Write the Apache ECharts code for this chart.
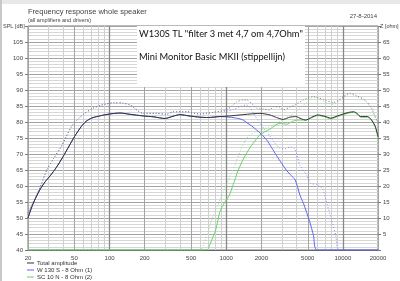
<!DOCTYPE html>
<html><head><meta charset="utf-8">
<script src="https://cdn.jsdelivr.net/npm/echarts@6/dist/echarts.min.js"></script>
<style>html,body{margin:0;padding:0;background:#fff}#c{width:400px;height:281px}</style>
</head><body><div id="c"></div>
<script>
// ---- tick labels / grid values ----
const majorFreqTicks = [20, 50, 100, 200, 500, 1000, 2000, 5000, 10000, 20000];
const minorFreqTicks = [30, 40, 60, 70, 80, 90, 300, 400, 600, 700, 800, 900, 3000, 4000, 6000, 7000, 8000, 9000];
const decadeFreqTicks = [100, 1000, 10000];
const legendNames = ['Total amplitude', 'W 130 S - 8 Ohm (1)', 'SC 10 N - 8 Ohm (2)'];

// ---- series values: [frequency Hz, SPL dB] ----
const totalAmplitude = [[20,50],[22,54.3],[25,58.5],[28,61.3],[31,63.2],[35,65.8],[40,69.2],[45,72.5],[50,75.4],[57,78.5],[63,80.2],[70,81.2],[80,81.8],[90,82.2],[105,82.6],[123,82.8],[150,82.4],[194,81.9],[240,81.6],[298,81.1],[350,81.8],[400,82.3],[480,81.9],[596,81.5],[700,81.4],[883,81.7],[1000,81.8],[1313,82.2],[1597,82.5],[1945,82.7],[2370,82.2],[2700,81.4],[3085,80.8],[3500,81.5],[3950,81.7],[4400,81],[4790,80.6],[5400,81.5],[6110,82.2],[7000,81.8],[7850,81.2],[9000,81.9],[10080,82.5],[11200,83],[12400,83.2],[13300,82.6],[14200,81.7],[16200,81.7],[17500,80.8],[19000,78.5],[20000,75.4]];

const woofer = [[20,50],[22,54.3],[25,58.5],[28,61.3],[31,63.2],[35,65.8],[40,69.2],[45,72.5],[50,75.4],[57,78.5],[63,80.2],[70,81.2],[80,81.8],[90,82.2],[105,82.6],[123,82.8],[150,82.4],[194,81.9],[240,81.6],[298,81.1],[350,81.8],[400,82.3],[480,81.9],[596,81.5],[700,81.4],[883,81.7],[1000,81.6],[1230,81.2],[1400,80.6],[1500,79.8],[1650,78.8],[1820,77.5],[2000,76.2],[2220,74.4],[2450,72],[2700,69.5],[3000,67],[3300,64.8],[3600,63.3],[3900,61.9],[4300,57],[4600,54.5],[5200,48.8],[5600,44.5],[6000,40],[20000,40]];

const tweeter = [[20,40],[680,40],[730,42],[815,46.5],[883,52],[975,55],[1060,57],[1150,60.5],[1270,65],[1420,68.8],[1600,72],[1800,74.5],[1945,76],[2370,77.8],[2886,79.6],[3300,79.3],[3700,80.2],[4000,80.6],[4800,80.6],[5400,81.3],[6110,82],[7000,81.6],[7850,81],[9000,81.7],[10080,82.3],[11200,82.8],[12400,83],[13300,82.4],[14200,81.5],[16200,81.5],[17500,80.6],[19000,78.3],[20000,75.2]];

const miniTotal = [[20,51.5],[23,56],[26,60.5],[29,65],[33,68.5],[38.5,72.3],[47,78.5],[55,81.3],[61,82.7],[72,84.3],[85,85.3],[110,86],[130,85.9],[150,85.3],[194,82.7],[253,82.7],[308,82.4],[352,83.2],[458,83.2],[596,82.5],[775,83],[1010,83.9],[1120,85],[1228,86.3],[1400,86.9],[1500,86.9],[1650,85.8],[1824,84.3],[2100,84],[2370,83.8],[2530,84.8],[2886,84.6],[3085,83.8],[3500,84.6],[3950,85.5],[4573,86.9],[5000,87.5],[5573,87.9],[6100,87.6],[6790,87.1],[8280,86.1],[9200,86.8],[10080,87.9],[11490,89],[13120,88.2],[15450,86.9],[17630,84.3],[19450,80.6],[20000,80]];

const miniWoofer = [[20,51.5],[23,56],[26,60.5],[29,65],[33,68.5],[38.5,72.3],[47,78.5],[55,81.3],[61,82.7],[72,84.3],[85,85.3],[110,86],[130,85.9],[150,85.3],[194,82.7],[253,82.7],[308,82.4],[352,83.2],[458,83.2],[596,82.5],[775,83],[900,83.3],[1000,83.4],[1150,83.9],[1313,84.8],[1496,85.3],[1600,84.5],[1707,82.8],[1945,79.6],[2150,77.5],[2370,75.6],[2600,73.5],[2886,71.8],[3200,71.6],[3515,72.2],[3883,71.5],[4285,66.5],[4889,63.4],[5300,60.8],[6000,60.5],[6700,59],[7300,54.5],[8000,49.4],[8700,44.5],[9300,40],[20000,40]];

const miniTweeter = [[20,40],[596,40],[650,42.5],[700,46],[780,51],[880,55.5],[950,58.5],[1080,63],[1230,68],[1320,71],[1450,74],[1550,75.5],[1750,76.8],[1945,77.5],[2450,78.8],[2886,80.3],[3515,82],[4285,84.3],[5050,86.5],[5570,87.8],[6000,87.7],[6790,86.6],[7500,85.8],[8280,85.6],[9200,86.5],[10080,87.6],[11490,88.8],[13120,88],[15450,86.7],[17630,84.1],[19450,80.4],[20000,79.8]];

const FONT = 'Liberation Sans, Arial, sans-serif';
const chart = echarts.init(document.getElementById('c'), null, {renderer: 'canvas'});

function logAxis(ticks, color, width, labels) {
  return {
    type: 'log', logBase: 10, min: 20, max: 20000, position: 'bottom', offset: 0,
    axisLine: {show: labels, onZero: false, lineStyle: {color: '#666', width: 1}},
    axisTick: {show: false, customValues: ticks},
    axisLabel: labels ? {show: true, customValues: majorFreqTicks, fontSize: 6, color: '#444', fontFamily: FONT, margin: 5,
      formatter: v => String(Math.round(v))} : {show: false},
    splitLine: {show: true, lineStyle: {color: color, width: width}},
    minorSplitLine: {show: false}
  };
}

const lineBase = {type: 'line', showSymbol: false, symbol: 'none', smooth: 0.25, animation: false, silent: true};

chart.setOption({
  animation: false,
  backgroundColor: '#fff',
  grid: {left: 28, right: 22, top: 26, bottom: 31, show: true, borderColor: '#777', borderWidth: 1, backgroundColor: 'transparent'},
  xAxis: [
    logAxis(minorFreqTicks, '#cfcfcf', 1, false),
    logAxis(majorFreqTicks, '#a4a4a4', 1, true),
    logAxis(decadeFreqTicks, '#888', 1.3, false)
  ],
  yAxis: [
    {type: 'value', min: 40, max: 110, interval: 5, position: 'left',
      axisLine: {show: false},
      axisTick: {show: true, length: 3, lineStyle: {color: '#777'}},
      axisLabel: {fontSize: 6, color: '#444', fontFamily: FONT, margin: 5, formatter: v => v >= 110 ? '' : String(v)},
      splitLine: {show: true, lineStyle: {color: '#a4a4a4'}},
      minorTick: {show: false, splitNumber: 5},
      minorSplitLine: {show: true, lineStyle: {color: '#d6d6d6'}}},
    {type: 'value', min: 0, max: 70, interval: 5, position: 'right',
      axisLine: {show: false},
      axisTick: {show: true, length: 3, lineStyle: {color: '#777'}},
      axisLabel: {fontSize: 6, color: '#444', fontFamily: FONT, margin: 5, formatter: v => (v <= 0 || v >= 70) ? '' : String(v)},
      splitLine: {show: false}}
  ],
  legend: {
    data: legendNames, orient: 'vertical', left: 27, top: 260, padding: 0,
    itemWidth: 7, itemHeight: 1, itemGap: 1, icon: 'rect',
    textStyle: {fontSize: 6, color: '#333', fontFamily: FONT, lineHeight: 6, padding: [0, 0, 0, -2]}
  },
  series: [
    Object.assign({}, lineBase, {name: 'mini tweeter', data: miniTweeter, xAxisIndex: 1, lineStyle: {color: '#8fe08f', width: 1, type: [1, 2]}}),
    Object.assign({}, lineBase, {name: 'mini woofer', data: miniWoofer, xAxisIndex: 1, lineStyle: {color: '#7f8cff', width: 1, type: [1, 2]}}),
    Object.assign({}, lineBase, {name: 'mini total', data: miniTotal, xAxisIndex: 1, lineStyle: {color: '#808080', width: 1, type: [1, 2]}}),
    Object.assign({}, lineBase, {name: legendNames[2], data: tweeter, xAxisIndex: 1, color: '#66d466', lineStyle: {color: '#66d466', width: 1}}),
    Object.assign({}, lineBase, {name: legendNames[1], data: woofer, xAxisIndex: 1, color: '#5a66f0', lineStyle: {color: '#5a66f0', width: 1}}),
    Object.assign({}, lineBase, {name: legendNames[0], data: totalAmplitude, xAxisIndex: 1, color: '#333', lineStyle: {color: '#333', width: 1}})
  ],
  graphic: [
    {type: 'rect', left: 0, top: 0, shape: {width: 400, height: 4}, style: {fill: '#e8e8e8'}, z: 50},
    {type: 'rect', left: 0, top: 0, shape: {width: 2, height: 281}, style: {fill: '#c8c8c8'}, z: 50},
    {type: 'text', left: 28, top: 8, style: {text: 'Frequency response whole speaker', fontSize: 7.5, fill: '#444', fontFamily: FONT}, z: 50},
    {type: 'text', left: 28, top: 17, style: {text: '(all amplifiers and drivers)', fontSize: 5.5, fill: '#444', fontFamily: FONT}, z: 50},
    {type: 'text', left: 3, top: 23, style: {text: 'SPL [dB]', fontSize: 5.5, fill: '#444', fontFamily: FONT}, z: 50},
    {type: 'text', right: 23, top: 13, style: {text: '27-8-2014', fontSize: 6, fill: '#444', fontFamily: FONT}, z: 50},
    {type: 'text', left: 380, top: 23, style: {text: 'Z [ohm]', fontSize: 5.5, fill: '#444', fontFamily: FONT}, z: 50},
    {type: 'rect', left: 137, top: 26, shape: {width: 168, height: 61}, style: {fill: '#fff'}, z: 60},
    {type: 'text', left: 139, top: 29, style: {text: 'W130S TL "filter 3 met 4,7 om 4,7Ohm"', fontSize: 9.3, fill: '#111', fontFamily: 'Lato, Open Sans, sans-serif'}, z: 61},
    {type: 'text', left: 139, top: 52, style: {text: 'Mini Monitor Basic MKII (stippellijn)', fontSize: 9.3, fill: '#111', fontFamily: 'Lato, Open Sans, sans-serif'}, z: 61}
  ]
});
</script></body></html>
